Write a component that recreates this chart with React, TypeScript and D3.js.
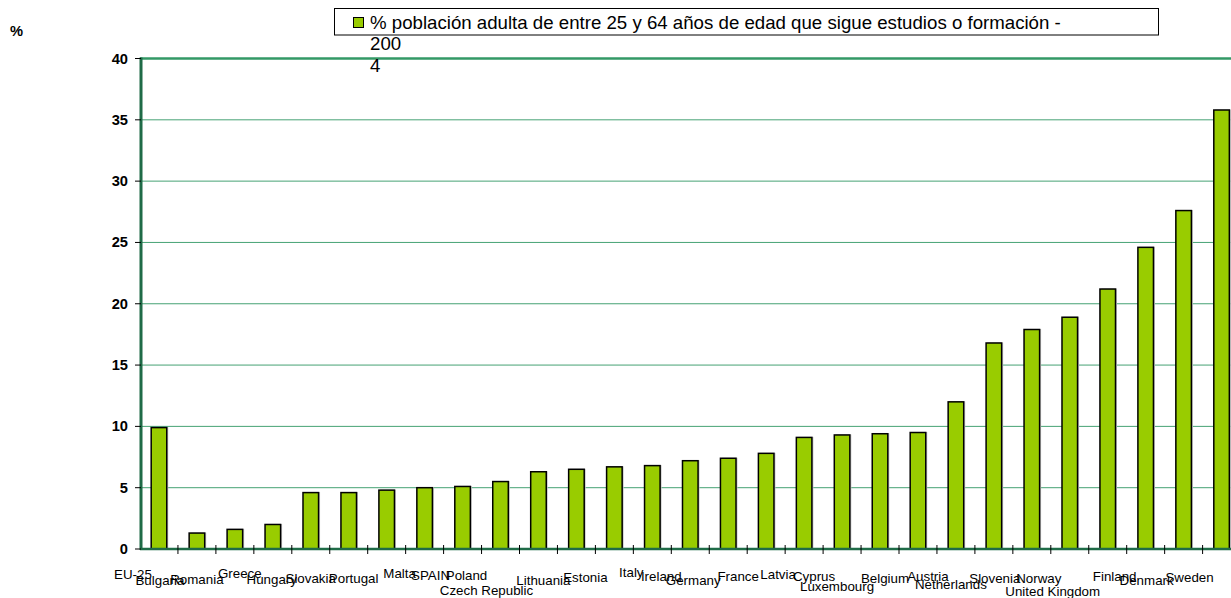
import React from "react";
import * as d3 from "d3";

// ---- data ----
const categories: string[] = [
  "EU-25", "Bulgaria", "Romania", "Greece", "Hungary", "Slovakia", "Portugal", "Malta", "SPAIN",
  "Poland", "Czech Republic", "Lithuania", "Estonia", "Italy", "Ireland", "Germany", "France",
  "Latvia", "Cyprus", "Luxembourg", "Belgium", "Austria", "Netherlands", "Slovenia", "Norway",
  "United Kingdom", "Finland", "Denmark", "Sweden",
];
const values: number[] = [
  9.9, 1.3, 1.6, 2.0, 4.6, 4.6, 4.8, 5.0, 5.1, 5.5, 6.3, 6.5, 6.7, 6.8, 7.2, 7.4, 7.8,
  9.1, 9.3, 9.4, 9.5, 12.0, 16.8, 17.9, 18.9, 21.2, 24.6, 27.6, 35.8,
];
const yTicks: number[] = [0, 5, 10, 15, 20, 25, 30, 35, 40];
const legendLines: string[] = [
  "% población adulta de entre 25 y 64 años de edad que sigue estudios o formación -",
  "200",
  "4",
];
const yAxisTitle = "%";

// ---- layout (label nudges relative to each bar, as drawn in the original) ----
const labelShiftX: number[] = [
  -26, -37, -38, -33, -39, -38, -33, -25, -32, -34, -52, -33, -29, -21, -29, -35, -28,
  -26, -28, -43, -33, -28, -43, -37, -31, -55, -31, -37, -32,
];
const labelCenterY: number[] = [
  574, 580, 579, 573, 579, 578, 578, 573, 575, 575, 590, 580, 577, 572, 576, 580, 576,
  574, 576, 586, 578, 576, 584, 578, 578, 591, 576, 580, 577,
];

const W = 1231;
const H = 598;
const left = 140;
const step = 37.95;
const right = left + step * categories.length;
const top = 58.5;
const bottom = 549;
const FONT = "'Liberation Sans', Arial, Helvetica, sans-serif";
const GREEN = "#339966";
const BAR = "#99CC00";

export default function App() {
  const x = d3
    .scaleBand<string>()
    .domain(categories)
    .range([left, right])
    .paddingInner(0.59)
    .paddingOuter(0.295);
  const xEdge = d3.scaleBand<string>().domain(categories).range([left, right]).padding(0);
  const y = d3.scaleLinear().domain([0, 40]).range([bottom, top]);

  return (
    <svg
      width={W}
      height={H}
      style={{ position: "absolute", left: 0, top: 0, background: "#fff" }}
      fontFamily={FONT}
    >
      {/* gridlines */}
      {yTicks
        .filter((t) => t > 0 && t < 40)
        .map((t) => (
          <line key={"g" + t} x1={left} x2={right} y1={y(t)} y2={y(t)} stroke={GREEN} strokeWidth={1} opacity={0.9} />
        ))}
      {/* top border */}
      <line x1={left} x2={right} y1={y(40)} y2={y(40)} stroke={GREEN} strokeWidth={2.5} />

      {/* bars */}
      {categories.map((c, i) => {
        const bx = x(c)!;
        const bw = x.bandwidth();
        const by = y(values[i]);
        const bh = y(0) - by;
        return (
          <g key={c}>
            <rect x={bx + 1.5} y={by - 0.5} width={bw} height={bh} fill="#c4c4c4" />
            <rect x={bx} y={by} width={bw} height={bh} fill={BAR} stroke="#000" strokeWidth={1.5} />
          </g>
        );
      })}

      {/* axes */}
      <line x1={left + 1} x2={left + 1} y1={y(40) - 1} y2={bottom + 1} stroke="#1f6b47" strokeWidth={3} />
      <line x1={left} x2={right} y1={bottom} y2={bottom} stroke="#1f6b47" strokeWidth={2.5} />

      {/* y ticks and labels */}
      {yTicks.map((t) => (
        <g key={"y" + t}>
          <line x1={135} x2={left + 1} y1={y(t)} y2={y(t)} stroke="#000" strokeWidth={1} />
          <text
            x={128}
            y={y(t)}
            textAnchor="end"
            dominantBaseline="central"
            fontSize={14.67}
            fontWeight="bold"
            fill="#000"
          >
            {t}
          </text>
        </g>
      ))}

      {/* x ticks at category boundaries */}
      {categories.map((c, i) =>
        i === 0 ? null : (
          <line key={"xt" + c} x1={xEdge(c)!} x2={xEdge(c)!} y1={bottom - 4} y2={bottom + 5} stroke="#000" strokeWidth={1} />
        )
      )}

      {/* x labels */}
      {categories.map((c, i) => (
        <text
          key={"xl" + c}
          x={x(c)! + x.bandwidth() / 2 + labelShiftX[i]}
          y={labelCenterY[i]}
          textAnchor="middle"
          dominantBaseline="central"
          fontSize={13.33}
          fill="#000"
        >
          {c}
        </text>
      ))}

      {/* y axis title */}
      <text x={10} y={31} dominantBaseline="central" fontSize={14.67} fontWeight="bold" fill="#000">
        {yAxisTitle}
      </text>

      {/* legend */}
      <rect x={334.5} y={8.5} width={824} height={26.5} fill="#fff" stroke="#000" strokeWidth={1} />
      <rect x={353.5} y={17.5} width={10} height={10} fill={BAR} stroke="#000" strokeWidth={1} />
      {legendLines.map((l, i) => (
        <text key={"lg" + i} x={370} y={28.5 + i * 21.7} fontSize={18.67} fill="#000">
          {l}
        </text>
      ))}
    </svg>
  );
}
